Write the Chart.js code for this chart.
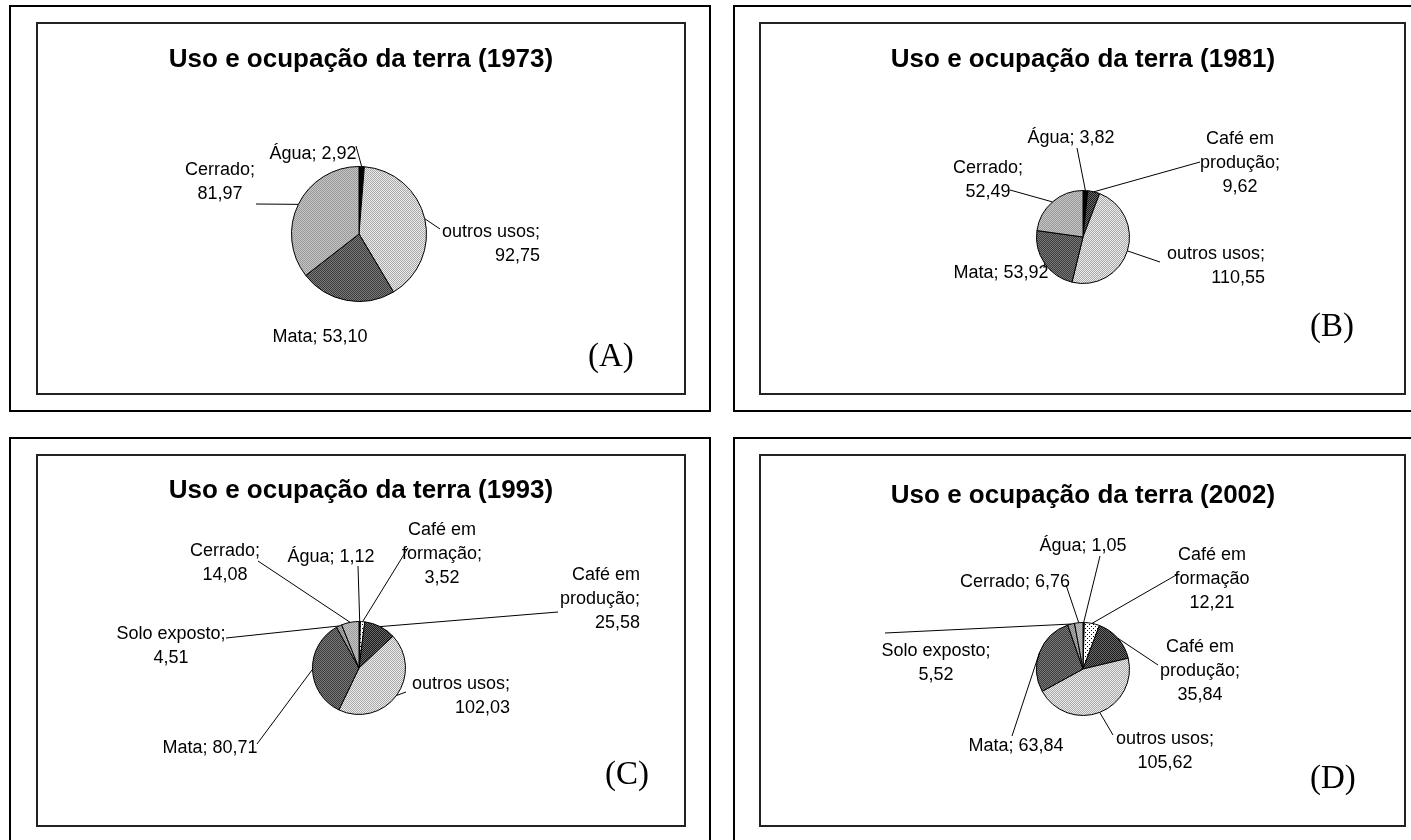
<!DOCTYPE html>
<html>
<head>
<meta charset="utf-8">
<script src="https://cdn.jsdelivr.net/npm/chart.js@4.4.1/dist/chart.umd.min.js"></script>
<style>
  body { margin: 0; background: #fff; width: 1411px; height: 840px; overflow: hidden; position: relative;
         font-family: "Liberation Sans", Arial, sans-serif; }
  .outer { position: absolute; border: 2px solid #000; box-sizing: border-box; }
  .inner { position: absolute; border: 2px solid #222; box-sizing: border-box; }
  canvas { position: absolute; }
  .title { position: absolute; font-weight: bold; font-size: 26px; white-space: nowrap; transform: translate(-50%, -50%); }
  .tag { position: absolute; font-family: "Liberation Serif", "Times New Roman", serif; font-size: 33px; transform: translateY(-50%); }
</style>
</head>
<body>
<script>
// data
const cats1973 = ["Água", "outros usos", "Mata", "Cerrado"];
const vals1973 = [2.92, 92.75, 53.10, 81.97];

const cats1981 = ["Água", "Café em produção", "outros usos", "Mata", "Cerrado"];
const vals1981 = [3.82, 9.62, 110.55, 53.92, 52.49];

const cats1993 = ["Água", "Café em formação", "Café em produção", "outros usos", "Mata", "Solo exposto", "Cerrado"];
const vals1993 = [1.12, 3.52, 25.58, 102.03, 80.71, 4.51, 14.08];

const cats2002 = ["Água", "Café em formação", "Café em produção", "outros usos", "Mata", "Solo exposto", "Cerrado"];
const vals2002 = [1.05, 12.21, 35.84, 105.62, 63.84, 5.52, 6.76];

const titles = ["Uso e ocupação da terra (1973)", "Uso e ocupação da terra (1981)",
                "Uso e ocupação da terra (1993)", "Uso e ocupação da terra (2002)"];
const tags = ["(A)", "(B)", "(C)", "(D)"];

// fill patterns per category
function pattern(base, dot, step) {
    var c = document.createElement("canvas");
    c.width = c.height = step;
    var g = c.getContext("2d");
    g.fillStyle = base;
    g.fillRect(0, 0, step, step);
    g.fillStyle = dot;
    g.fillRect(0, 0, 1, 1);
    g.fillRect(step / 2, step / 2, 1, 1);
    return g.createPattern(c, "repeat");
}
const fills = {
    "Água": "#000",
    "outros usos": pattern("#ececec", "#a8a8a8", 2),
    "Mata": pattern("#7a7a7a", "#3c3c3c", 2),
    "Cerrado": pattern("#c4c4c4", "#9a9a9a", 2),
    "Café em produção": pattern("#1a1a1a", "#6a6a6a", 2),
    "Café em formação": pattern("#fff", "#000", 4),
    "Solo exposto": pattern("#b0b0b0", "#808080", 2)
};

// page layout: outer frame, inner frame, pie centre / radius
const panels = [
    { outer: [9, 5, 702, 407],   inner: [36, 22, 650, 373],  cx: 359,  cy: 234, r: 68, title: [361, 58],  tag: [588, 355] },
    { outer: [733, 5, 702, 407], inner: [759, 22, 647, 373], cx: 1083, cy: 237, r: 47, title: [1083, 58], tag: [1310, 325] },
    { outer: [9, 437, 702, 407], inner: [36, 454, 650, 373], cx: 359,  cy: 668, r: 47, title: [361, 489], tag: [605, 773] },
    { outer: [733, 437, 702, 407], inner: [759, 454, 647, 373], cx: 1083, cy: 669, r: 47, title: [1083, 494], tag: [1310, 777] }
];

// label placement (page px): rows = words per line, end = leader line end
const labels1973 = [
    { x: 313, y: 154, rows: [2], align: "center", end: [356, 146] },
    { x: 540, y: 232, rows: [2, 1], align: "right", end: [440, 229] },
    { x: 320, y: 337, rows: [2], align: "center" },
    { x: 220, y: 170, rows: [1, 1], align: "center", end: [256, 204] }
];
const labels1981 = [
    { x: 1071, y: 138, rows: [2], align: "center", end: [1077, 148] },
    { x: 1240, y: 139, rows: [2, 1, 1], align: "center", end: [1200, 162] },
    { x: 1265, y: 254, rows: [2, 1], align: "right", end: [1160, 262] },
    { x: 1001, y: 273, rows: [2], align: "center", end: [1044, 268] },
    { x: 988, y: 168, rows: [1, 1], align: "center", end: [1010, 190] }
];
const labels1993 = [
    { x: 331, y: 557, rows: [2], align: "center", end: [358, 566] },
    { x: 442, y: 530, rows: [2, 1, 1], align: "center", end: [408, 548] },
    { x: 640, y: 575, rows: [2, 1, 1], align: "right", end: [558, 612] },
    { x: 510, y: 684, rows: [2, 1], align: "right", end: [406, 692] },
    { x: 210, y: 748, rows: [2], align: "center", end: [257, 744] },
    { x: 171, y: 634, rows: [2, 1], align: "center", end: [226, 638] },
    { x: 225, y: 551, rows: [1, 1], align: "center", end: [258, 561] }
];
const labels2002 = [
    { x: 1083, y: 546, rows: [2], align: "center", end: [1100, 556] },
    { x: 1212, y: 555, rows: [2, 1, 1], align: "center", end: [1178, 574], noSemi: true },
    { x: 1200, y: 647, rows: [2, 1, 1], align: "center", end: [1158, 665] },
    { x: 1165, y: 739, rows: [2, 1], align: "center", end: [1113, 735] },
    { x: 1016, y: 746, rows: [2], align: "center", end: [1012, 736] },
    { x: 936, y: 651, rows: [2, 1], align: "center", end: [885, 633] },
    { x: 1015, y: 582, rows: [2], align: "center", end: [1066, 585] }
];

function fmt(v) {
    return v.toFixed(2).replace(".", ",");
}

// draws "Categoria; valor" labels with leader lines to the slice edge
const pieLabels = {
    id: "pieLabels",
    afterDatasetsDraw: function (chart, args, opts) {
        var ctx = chart.ctx,
            meta = chart.getDatasetMeta(0),
            data = chart.data.datasets[0].data,
            ox = opts.origin[0],
            oy = opts.origin[1];
        ctx.save();
        ctx.font = "18px 'Liberation Sans', Arial, sans-serif";
        ctx.fillStyle = "#000";
        ctx.strokeStyle = "#000";
        ctx.lineWidth = 1;
        ctx.textBaseline = "middle";
        opts.items.forEach(function (it, i) {
            var arc = meta.data[i];
            if (it.end) {
                var mid = (arc.startAngle + arc.endAngle) / 2;
                ctx.beginPath();
                ctx.moveTo(arc.x + Math.cos(mid) * arc.outerRadius, arc.y + Math.sin(mid) * arc.outerRadius);
                ctx.lineTo(it.end[0] - ox, it.end[1] - oy);
                ctx.stroke();
            }
            var words = (chart.data.labels[i] + (it.noSemi ? "" : ";") + " " + fmt(data[i])).split(" ");
            var k = 0;
            ctx.textAlign = it.align;
            it.rows.forEach(function (n, row) {
                ctx.fillText(words.slice(k, k + n).join(" "), it.x - ox, it.y - oy + row * 24);
                k += n;
            });
        });
        ctx.restore();
    }
};

function box(cls, r) {
    var d = document.createElement("div");
    d.className = cls;
    d.style.left = r[0] + "px";
    d.style.top = r[1] + "px";
    d.style.width = r[2] + "px";
    d.style.height = r[3] + "px";
    document.body.appendChild(d);
}

function makePie(p, cats, vals, items, idx) {
    box("outer", p.outer);
    var cv = document.createElement("canvas");
    cv.width = p.inner[2];
    cv.height = p.inner[3];
    cv.style.left = p.inner[0] + "px";
    cv.style.top = p.inner[1] + "px";
    document.body.appendChild(cv);
    box("inner", p.inner);

    var t = document.createElement("div");
    t.className = "title";
    t.textContent = titles[idx];
    t.style.left = p.title[0] + "px";
    t.style.top = p.title[1] + "px";
    document.body.appendChild(t);

    var g = document.createElement("div");
    g.className = "tag";
    g.textContent = tags[idx];
    g.style.left = p.tag[0] + "px";
    g.style.top = p.tag[1] + "px";
    document.body.appendChild(g);

    // square chart area around the pie centre
    var lx = p.cx - p.inner[0], ly = p.cy - p.inner[1];
    new Chart(cv, {
        type: "pie",
        data: {
            labels: cats,
            datasets: [{
                data: vals,
                backgroundColor: cats.map(function (c) { return fills[c]; }),
                borderColor: "#000",
                borderWidth: 1
            }]
        },
        options: {
            responsive: false,
            animation: false,
            layout: { padding: { left: lx - p.r, top: ly - p.r, right: p.inner[2] - lx - p.r, bottom: p.inner[3] - ly - p.r } },
            plugins: {
                legend: { display: false },
                tooltip: { enabled: false },
                pieLabels: { items: items, origin: [p.inner[0], p.inner[1]] }
            }
        },
        plugins: [pieLabels]
    });
}

makePie(panels[0], cats1973, vals1973, labels1973, 0);
makePie(panels[1], cats1981, vals1981, labels1981, 1);
makePie(panels[2], cats1993, vals1993, labels1993, 2);
makePie(panels[3], cats2002, vals2002, labels2002, 3);
</script>
</body>
</html>
